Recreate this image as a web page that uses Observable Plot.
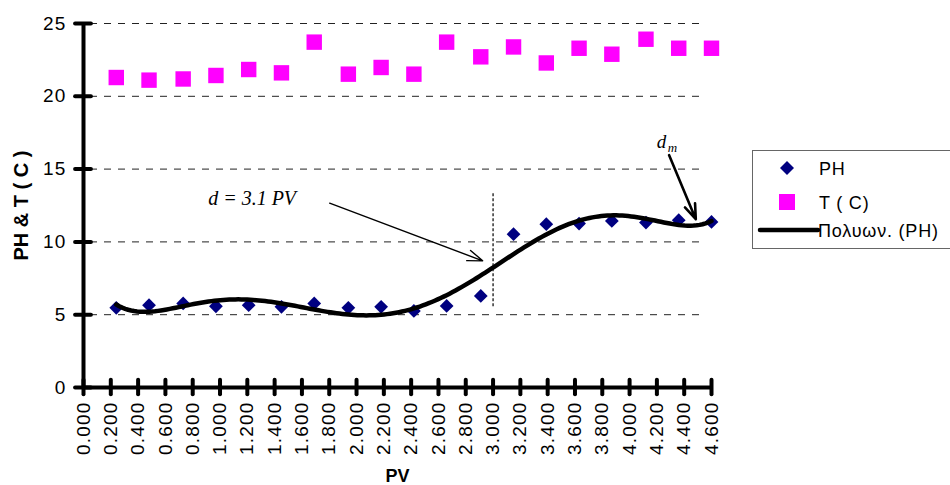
<!DOCTYPE html>
<html>
<head>
<meta charset="utf-8">
<script src="https://cdn.jsdelivr.net/npm/d3@7"></script>
<script src="https://cdn.jsdelivr.net/npm/@observablehq/plot@0.6"></script>
<style>
  body { margin: 0; background: #fff; }
  #wrap { position: relative; width: 950px; height: 485px; overflow: hidden; font-family: Arial, "Liberation Sans", sans-serif; }
  #legend { position: absolute; left: 752px; top: 150px; width: 230px; height: 97px; border: 1px solid #666; background: #fff; }
  #legend .row { position: absolute; left: 0; font-size: 18px; letter-spacing: 0.8px; white-space: nowrap; }
  #legend .txt { position: absolute; left: 66px; }
  g[aria-label="x-axis tick label"] text, g[aria-label="y-axis tick label"] text { letter-spacing: 1.2px; }
</style>
</head>
<body>
<div id="wrap"></div>
<script>
// ---- data ----
const pv = [0.24, 0.48, 0.73, 0.97, 1.21, 1.45, 1.69, 1.94, 2.18, 2.42, 2.66, 2.91, 3.15, 3.39, 3.63, 3.87, 4.12, 4.36, 4.60];
const ph = [5.47, 5.65, 5.77, 5.58, 5.65, 5.54, 5.77, 5.47, 5.54, 5.26, 5.60, 6.29, 10.53, 11.22, 11.26, 11.44, 11.33, 11.49, 11.37];
const tC = [21.29, 21.11, 21.19, 21.43, 21.84, 21.61, 23.72, 21.52, 21.98, 21.52, 23.72, 22.71, 23.39, 22.29, 23.30, 22.89, 23.92, 23.30, 23.30];
const xTicks = [0, 0.2, 0.4, 0.6, 0.8, 1.0, 1.2, 1.4, 1.6, 1.8, 2.0, 2.2, 2.4, 2.6, 2.8, 3.0, 3.2, 3.4, 3.6, 3.8, 4.0, 4.2, 4.4, 4.6];
const yTicks = [0, 5, 10, 15, 20, 25];
const legendLabels = ["PH", "T ( C)", "Πολυων. (PH)"];
// annotations (data coordinates)
const arrows = [
  {x1: 1.803, y1: 12.66, x2: 2.924, y2: 8.70, w: 1.4},
  {x1: 4.289, y1: 15.96, x2: 4.485, y2: 11.56, w: 2.6}
];
const notes = [{x: 1.235, y: 13.0, text: "d = 3.1 PV"}];
const dmNote = [{x: 4.199, y: 16.85, text: "d"}];
const dmSub = [{x: 4.28, y: 16.45, text: "m"}];
const guide = [{x: 3.0, y1: 5.54, y2: 13.43}];

// ---- polynomial (order 6) least-squares trendline, as Excel's "Πολυων." ----
function polyfit(xs, ys, deg) {
  const mx = d3.mean(xs), sx = (d3.max(xs) - d3.min(xs)) / 2;
  const n = deg + 1;
  const A = Array.from({length: n}, () => new Array(n + 1).fill(0));
  xs.forEach((x, k) => {
    const t = (x - mx) / sx;
    const p = []; let v = 1;
    for (let i = 0; i < n; i++) { p.push(v); v *= t; }
    for (let i = 0; i < n; i++) {
      for (let j = 0; j < n; j++) A[i][j] += p[i] * p[j];
      A[i][n] += p[i] * ys[k];
    }
  });
  for (let c = 0; c < n; c++) {
    let piv = c;
    for (let r = c + 1; r < n; r++) if (Math.abs(A[r][c]) > Math.abs(A[piv][c])) piv = r;
    [A[c], A[piv]] = [A[piv], A[c]];
    for (let r = 0; r < n; r++) {
      if (r === c) continue;
      const f = A[r][c] / A[c][c];
      for (let k = c; k <= n; k++) A[r][k] -= f * A[c][k];
    }
  }
  const coef = A.map((row, i) => row[n] / row[i]);
  return x => { const t = (x - mx) / sx; let s = 0, v = 1; for (const c of coef) { s += c * v; v *= t; } return s; };
}
const fit = polyfit(pv, ph, 6);
const x0 = d3.min(pv), x1 = d3.max(pv);
const trend = d3.range(0, 201).map(i => { const x = x0 + (x1 - x0) * i / 200; return {x, y: fit(x)}; });

const pts = pv.map((x, i) => ({x, ph: ph[i], t: tC[i]}));

const chart = Plot.plot({
  width: 950,
  height: 485,
  marginLeft: 83,
  marginRight: 239,
  marginTop: 23,
  marginBottom: 98,
  style: {fontFamily: "Arial, 'Liberation Sans', sans-serif", fontSize: "18px", color: "#000", background: "#fff"},
  x: {domain: [0, 4.6], axis: null},
  y: {domain: [0, 25], axis: null},
  marks: [
    // dashed gridlines
    Plot.ruleY(yTicks.filter(d => d > 0), {stroke: "#222", strokeWidth: 1, strokeDasharray: "7,7", insetLeft: 7, insetRight: 6}),
    // axes lines
    Plot.ruleX([0], {y1: 0, y2: 25, stroke: "#000", strokeWidth: 4}),
    Plot.ruleY([0], {x1: 0, x2: 4.6, stroke: "#000", strokeWidth: 4}),
    // cross ticks
    Plot.ruleY(yTicks, {x1: -0.058, x2: 0.058, stroke: "#000", strokeWidth: 4, strokeLinecap: "round"}),
    Plot.ruleX(xTicks, {y1: -0.5, y2: 0.5, stroke: "#000", strokeWidth: 4, strokeLinecap: "round"}),
    Plot.axisY(yTicks, {tickSize: 0, tickPadding: 17, fontSize: 19, tickFormat: d => String(d)}),
    Plot.axisX(xTicks, {tickSize: 0, tickPadding: 14, tickRotate: -90, fontSize: 19, tickFormat: d => d.toFixed(3)}),
    // axis titles
    Plot.text(["PV"], {frameAnchor: "bottom", dy: 94, fontWeight: "bold", fontSize: 18}),
    Plot.text(["PH & T ( C )"], {frameAnchor: "left", textAnchor: "middle", dx: -62, rotate: -90, fontWeight: "bold", fontSize: 20}),
    // data
    Plot.dot(pts, {x: "x", y: "t", symbol: "square", r: 8.7, fill: "#FF00FF", stroke: "none"}),
    Plot.dot(pts, {x: "x", y: "ph", symbol: "diamond2", r: 6.2, fill: "#000080", stroke: "none"}),
    Plot.line(trend, {x: "x", y: "y", stroke: "#000", strokeWidth: 4.5, curve: "linear"}),
    // annotations
    Plot.ruleX(guide, {x: "x", y1: "y1", y2: "y2", stroke: "#000", strokeWidth: 1.2, strokeDasharray: "3,2"}),
    Plot.arrow(arrows, {x1: "x1", y1: "y1", x2: "x2", y2: "y2", strokeWidth: "w", stroke: "#000", headLength: 24, headAngle: 40}),
    Plot.text(notes, {x: "x", y: "y", text: "text", fontFamily: "'Liberation Serif', 'Times New Roman', serif", fontStyle: "italic", fontSize: 20}),
    Plot.text(dmNote, {x: "x", y: "y", text: "text", textAnchor: "start", fontFamily: "'Liberation Serif', 'Times New Roman', serif", fontStyle: "italic", fontSize: 19}),
    Plot.text(dmSub, {x: "x", y: "y", text: "text", textAnchor: "start", fontFamily: "'Liberation Serif', 'Times New Roman', serif", fontStyle: "italic", fontSize: 13})
  ]
});

const wrap = document.getElementById("wrap");
wrap.appendChild(chart);

// legend
const legend = document.createElement("div");
legend.id = "legend";
const sym = [
  `<svg width="20" height="20" style="position:absolute;left:24px;top:-1px"><path d="M10 3 L17 10 L10 17 L3 10 Z" fill="#000080"/></svg>`,
  `<svg width="20" height="20" style="position:absolute;left:24px;top:-1px"><rect x="2" y="2" width="16" height="16" fill="#FF00FF"/></svg>`,
  `<svg width="64" height="20" style="position:absolute;left:4px;top:-1px"><line x1="3" y1="10" x2="61" y2="10" stroke="#000" stroke-width="4.5" stroke-linecap="round"/></svg>`
];
const tops = [8, 42, 70];
legendLabels.forEach((lab, i) => {
  const row = document.createElement("div");
  row.className = "row";
  row.style.top = tops[i] + "px";
  row.innerHTML = sym[i] + `<span class="txt" style="left:${i === 2 ? 65 : 66}px">${lab}</span>`;
  legend.appendChild(row);
});
wrap.appendChild(legend);
</script>
</body>
</html>
